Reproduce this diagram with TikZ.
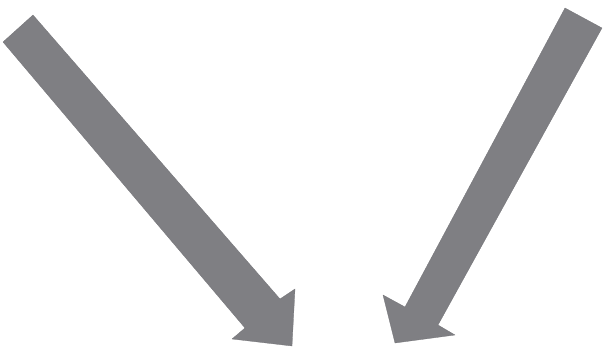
\documentclass[tikz,border=0pt]{standalone}
\usepackage{tikz}
\definecolor{arrowgray}{RGB}{127,127,131}

\begin{document}
\begin{tikzpicture}[x=0.05cm, y=-0.05cm, bigarrow/.style={fill=arrowgray, draw=arrowgray!90!black, line width=0.4pt, line join=round}]
\useasboundingbox (0,0) rectangle (604,348);
% left arrow
\filldraw[bigarrow] (3,42) -- (33,15) -- (280,299) -- (295,289) -- (292,346) -- (232,339) -- (245,328) -- cycle;
% right arrow
\filldraw[bigarrow] (565,8) -- (602,28) -- (438,325) -- (455,335) -- (395,343) -- (383,295) -- (405,307) -- cycle;
\end{tikzpicture}
\end{document}
